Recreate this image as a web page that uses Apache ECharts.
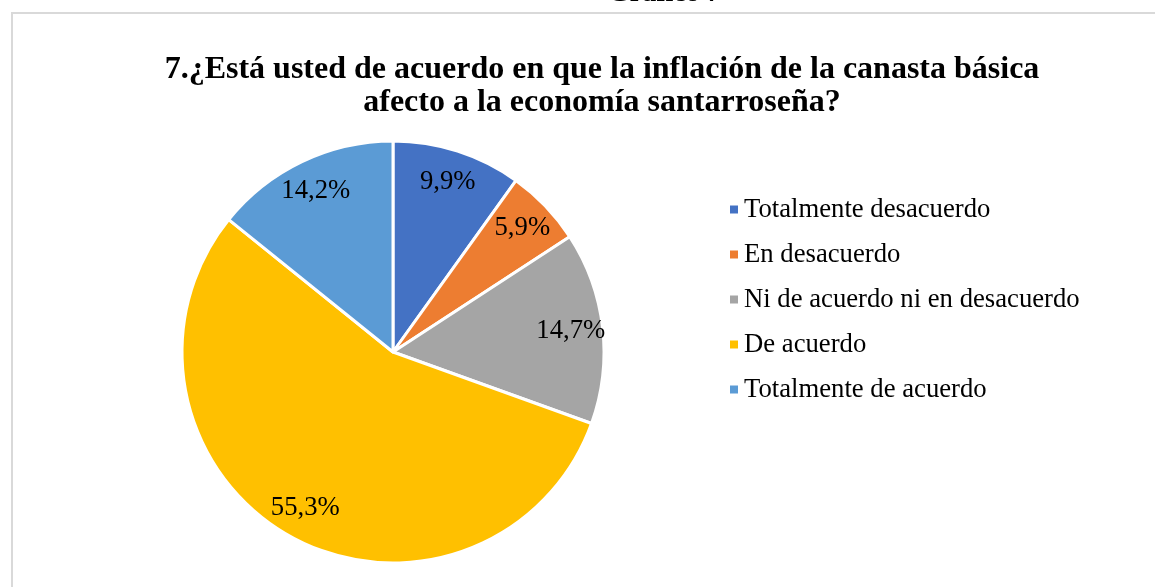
<!DOCTYPE html>
<html>
<head>
<meta charset="utf-8">
<script src="https://cdn.jsdelivr.net/npm/echarts@6/dist/echarts.min.js"></script>
<style>
html,body{margin:0;padding:0;background:#fff;}
#c{width:1155px;height:587px;}
</style>
</head>
<body>
<div id="c"></div>
<script>
var categories = ["Totalmente desacuerdo", "En desacuerdo", "Ni de acuerdo ni en desacuerdo", "De acuerdo", "Totalmente de acuerdo"];
var values = [9.9, 5.9, 14.7, 55.3, 14.2];
var colors = ["#4472C4", "#ED7D31", "#A5A5A5", "#FFC000", "#5B9BD5"];
var titleText = "7.¿Está usted de acuerdo en que la inflación de la canasta básica\nafecto a la economía santarroseña?";
var headerText = "Gráfico 7";

var FONT = "'Liberation Serif', 'Times New Roman', serif";

var pieData = categories.map(function (c, i) {
  return { name: c, value: values[i], itemStyle: { color: colors[i] } };
});
var labelData = categories.map(function (c, i) {
  return { name: c, value: values[i] };
});

var chart = echarts.init(document.getElementById('c'), null, { renderer: 'canvas' });
chart.setOption({
  backgroundColor: '#ffffff',
  animation: false,
  title: {
    text: titleText,
    left: 597,
    top: 48,
    textAlign: 'center',
    textStyle: { fontFamily: FONT, fontSize: 32, fontWeight: 'bold', color: '#000', lineHeight: 33 }
  },
  graphic: [
    { type: 'rect', shape: { x: 12, y: 13, width: 1200, height: 700 }, style: { fill: 'none', stroke: '#d9d9d9', lineWidth: 2 }, silent: true, z: -1 },
    { type: 'text', left: 608, top: -20, style: { text: headerText, font: "bold 28px 'Liberation Serif'", fill: '#000' }, silent: true }
  ],
  legend: {
    orient: 'vertical',
    left: 723,
    top: 191,
    icon: 'rect',
    itemWidth: 10,
    itemHeight: 10,
    itemGap: 18,
    data: categories,
    textStyle: { fontFamily: FONT, fontSize: 26.7, color: '#000', padding: [0, 0, 0, 0] }
  },
  series: [
    {
      type: 'pie',
      center: [393, 352],
      radius: [0, 211],
      startAngle: 90,
      clockwise: true,
      label: { show: false },
      labelLine: { show: false },
      itemStyle: { borderColor: '#fff', borderWidth: 3 },
      emphasis: { disabled: true },
      data: pieData
    },
    {
      type: 'pie',
      center: [393, 352],
      radius: [0, 352],
      startAngle: 90,
      clockwise: true,
      silent: true,
      z: 5,
      legendHoverLink: false,
      itemStyle: { color: 'rgba(0,0,0,0)', borderWidth: 0 },
      label: {
        show: true,
        position: 'inside',
        fontFamily: FONT,
        fontSize: 26.7,
        color: '#000',
        formatter: function (p) { return p.value.toFixed(1).replace('.', ',') + '%'; }
      },
      labelLine: { show: false },
      emphasis: { disabled: true },
      data: labelData
    }
  ]
});
</script>
</body>
</html>
